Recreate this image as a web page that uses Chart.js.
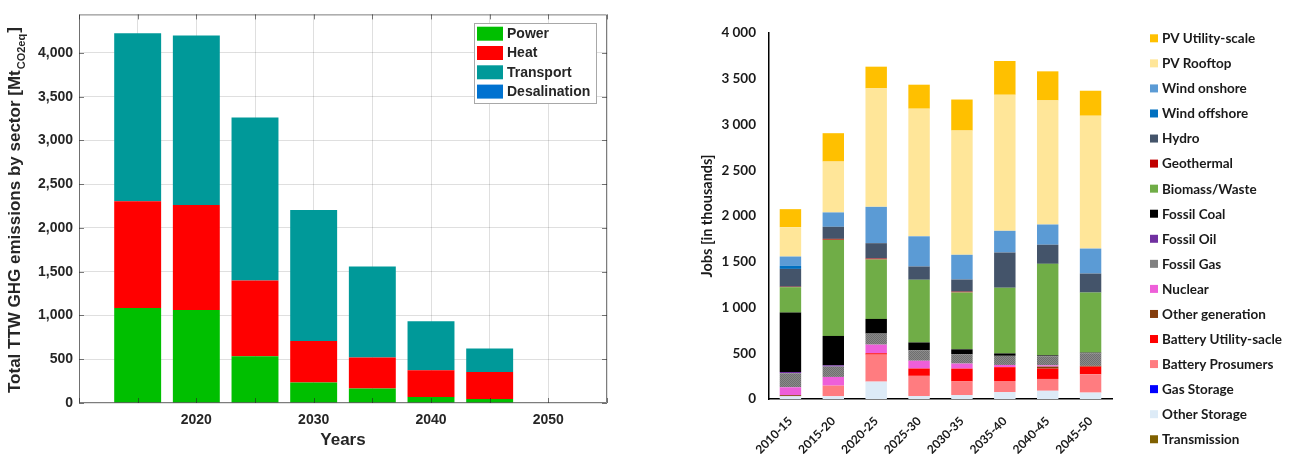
<!DOCTYPE html>
<html>
<head>
<meta charset="utf-8">
<script src="https://cdn.jsdelivr.net/npm/chart.js@4"></script>
<style>
  html, body { margin: 0; padding: 0; background: #fff; }
  #wrap { position: relative; width: 1298px; height: 454px; overflow: hidden; }
  canvas { position: absolute; top: 0; }
  #emis { left: 0; }
  #jobs { left: 640px; }
</style>
</head>
<body>
<div id="wrap">
  <canvas id="emis" width="640" height="454"></canvas>
  <canvas id="jobs" width="658" height="454"></canvas>
</div>
<script>
// ---------- Tank-to-wheel GHG emissions by sector (Mt CO2eq) ----------
const emisYears = [2015, 2020, 2025, 2030, 2035, 2040, 2045];
const emisPower = [1085, 1063, 535, 234, 166, 68, 45];
const emisHeat = [1220, 1199, 864, 475, 354, 305, 309];
const emisTransport = [1920, 1938, 1862, 1496, 1041, 562, 268];
const emisDesalination = [0, 0, 0, 0, 0, 0, 0];
const emisSectors = ['Power', 'Heat', 'Transport', 'Desalination'];
const emisXLabels = [2020, 2030, 2040, 2050];
const emisYTicks = [0, 500, 1000, 1500, 2000, 2500, 3000, 3500, 4000];

// ---------- Jobs by technology (thousands) ----------
const periods = ['2010-15', '2015-20', '2020-25', '2025-30', '2030-35', '2035-40', '2040-45', '2045-50'];
const transmission     = [0, 0, 0, 0, 0, 0, 0, 0];
const otherStorage     = [30, 30, 190, 33, 44, 75, 90, 70];
const gasStorage       = [0, 0, 0, 0, 0, 0, 0, 0];
const batteryProsumers = [0, 116, 295, 220, 148, 122, 129, 200];
const batteryUtility   = [0, 0, 15, 80, 140, 151, 113, 84];
const otherGeneration  = [12, 0, 0, 0, 0, 0, 22, 8];
const nuclear          = [86, 95, 94, 85, 55, 24, 14, 0];
const fossilGas        = [153, 113, 121, 115, 103, 100, 99, 138];
const fossilOil        = [14, 14, 0, 0, 0, 0, 0, 0];
const fossilCoal       = [649, 321, 160, 85, 53, 26, 10, 7];
const biomassWaste     = [278, 1051, 650, 685, 622, 718, 1000, 656];
const geothermal       = [5, 10, 10, 0, 8, 0, 0, 0];
const hydro            = [195, 132, 168, 145, 133, 385, 209, 208];
const windOffshore     = [33, 0, 0, 0, 0, 0, 0, 0];
const windOnshore      = [102, 157, 397, 330, 270, 237, 221, 273];
const pvRooftop        = [321, 556, 1295, 1395, 1358, 1487, 1356, 1452];
const pvUtility        = [197, 310, 237, 262, 339, 369, 318, 273];

// ===================== left panel =====================
const fontL = '"Liberation Sans", Arial, Helvetica, sans-serif';
const inkL = '#262626';
const emisColors = ['#00bf00', '#ff0000', '#009999', '#0072d0'];
const emisValues = [emisPower, emisHeat, emisTransport, emisDesalination];

// MATLAB-style box with inward tick marks
const emisFrame = {
  id: 'emisFrame',
  afterDraw(chart) {
    const { ctx, chartArea: a, scales } = chart;
    ctx.save();
    ctx.strokeStyle = 'rgba(38,38,38,0.6)';
    ctx.lineWidth = 1;
    ctx.beginPath();
    ctx.rect(a.left + 0.5, a.top + 0.5, a.right - a.left - 1, a.bottom - a.top - 1);
    const tl = 5;
    scales.x.ticks.forEach(t => {
      const px = Math.round(scales.x.getPixelForValue(t.value)) + 0.5;
      ctx.moveTo(px, a.top); ctx.lineTo(px, a.top + tl);
      ctx.moveTo(px, a.bottom); ctx.lineTo(px, a.bottom - tl);
    });
    scales.y.ticks.forEach(t => {
      const py = Math.round(scales.y.getPixelForValue(t.value)) + 0.5;
      ctx.moveTo(a.left, py); ctx.lineTo(a.left + tl, py);
      ctx.moveTo(a.right, py); ctx.lineTo(a.right - tl, py);
    });
    ctx.stroke();
    ctx.restore();
  }
};

// Boxed legend in the upper right of the plot
const emisLegend = {
  id: 'emisLegend',
  afterDraw(chart) {
    const ctx = chart.ctx;
    const x0 = 474, y0 = 23, w = 122, h = 80, pitch = 19.3;
    ctx.save();
    ctx.fillStyle = '#fff';
    ctx.fillRect(x0, y0, w, h);
    ctx.strokeStyle = '#a8a8a8';
    ctx.lineWidth = 1;
    ctx.strokeRect(x0 + 0.5, y0 + 0.5, w, h);
    ctx.font = 'bold 14px ' + fontL;
    ctx.textBaseline = 'middle';
    ctx.textAlign = 'left';
    chart.data.datasets.forEach((ds, i) => {
      const cy = y0 + 10.7 + i * pitch;
      ctx.fillStyle = ds.backgroundColor;
      ctx.fillRect(x0 + 3, cy - 7, 26, 14);
      ctx.fillStyle = inkL;
      ctx.fillText(ds.label, x0 + 33, cy + 0.5);
    });
    ctx.restore();
  }
};

// Rotated y title with a subscript unit
const emisYTitle = {
  id: 'emisYTitle',
  afterDraw(chart) {
    const ctx = chart.ctx;
    ctx.save();
    ctx.translate(20, 393);
    ctx.rotate(-Math.PI / 2);
    ctx.fillStyle = inkL;
    ctx.textAlign = 'left';
    ctx.textBaseline = 'alphabetic';
    const main = 'Total TTW GHG emissions by sector [Mt';
    ctx.font = 'bold 17px ' + fontL;
    ctx.fillText(main, 0, 0);
    let w = ctx.measureText(main).width;
    ctx.font = 'bold 11px ' + fontL;
    ctx.fillText('CO2eq', w + 1, 5);
    w += 1 + ctx.measureText('CO2eq').width;
    ctx.font = 'bold 17px ' + fontL;
    ctx.fillText(']', w + 1, -1);
    ctx.restore();
  }
};

new Chart(document.getElementById('emis'), {
  type: 'bar',
  data: {
    datasets: emisValues.map((vals, k) => ({
      label: emisSectors[k],
      data: emisYears.map((x, i) => ({ x: x, y: vals[i] })),
      backgroundColor: emisColors[k],
      borderWidth: 0,
      categoryPercentage: 0.8,
      barPercentage: 1
    }))
  },
  options: {
    responsive: false,
    animation: false,
    devicePixelRatio: 1,
    layout: { padding: { left: 0, top: 11, right: 33, bottom: 0 } },
    plugins: { legend: { display: false }, tooltip: { enabled: false } },
    scales: {
      x: {
        type: 'linear', stacked: true, min: 2010, max: 2055, offset: false, z: 1,
        grid: { color: 'rgba(38,38,38,0.15)', lineWidth: 1, drawTicks: false, offset: false },
        border: { display: false },
        ticks: {
          stepSize: 5, padding: 9, autoSkip: false, maxRotation: 0, color: inkL,
          font: { family: fontL, size: 14, weight: 'bold' },
          callback: v => (emisXLabels.includes(v) ? String(v) : '')
        },
        title: {
          display: true, text: 'Years', color: inkL, padding: { top: 0, bottom: 3 },
          font: { family: fontL, size: 17, weight: 'bold' }
        },
        afterFit: s => { s.height = 51; }
      },
      y: {
        type: 'linear', stacked: true, min: 0, max: 4440, z: 1,
        grid: { color: 'rgba(38,38,38,0.15)', lineWidth: 1, drawTicks: false },
        border: { display: false },
        ticks: {
          padding: 6, autoSkip: false, color: inkL,
          font: { family: fontL, size: 14, weight: 'bold' },
          callback: v => Number(v).toLocaleString('en-US')
        },
        afterBuildTicks: s => { s.ticks = emisYTicks.map(v => ({ value: v })); },
        afterFit: s => { s.width = 79; }
      }
    }
  },
  plugins: [emisFrame, emisLegend, emisYTitle]
});

// ===================== right panel =====================
const fontR = 'Lato, "Open Sans", sans-serif';
const inkR = '#1a1a1a';

// grainy grey fill for fossil gas
function grainFill() {
  const c = document.createElement('canvas');
  c.width = 2; c.height = 2;
  const g = c.getContext('2d');
  g.fillStyle = '#8a8a8a'; g.fillRect(0, 0, 2, 2);
  g.fillStyle = '#6f6f6f'; g.fillRect(0, 0, 1, 1); g.fillRect(1, 1, 1, 1);
  return g.createPattern(c, 'repeat');
}

// stacked bottom to top
const jobsSeries = [
  { name: 'Transmission',          values: transmission,     color: '#7f6000' },
  { name: 'Other Storage',         values: otherStorage,     color: '#ddebf7' },
  { name: 'Gas Storage',           values: gasStorage,       color: '#0000ff' },
  { name: 'Battery Prosumers',     values: batteryProsumers, color: '#ff7c80' },
  { name: 'Battery Utility-sacle', values: batteryUtility,   color: '#ff0000' },
  { name: 'Other generation',      values: otherGeneration,  color: '#843c0c' },
  { name: 'Nuclear',               values: nuclear,          color: '#ee5fd9' },
  { name: 'Fossil Gas',            values: fossilGas,        color: '#808080', fill: grainFill() },
  { name: 'Fossil Oil',            values: fossilOil,        color: '#7030a0' },
  { name: 'Fossil Coal',           values: fossilCoal,       color: '#000000' },
  { name: 'Biomass/Waste',         values: biomassWaste,     color: '#70ad47' },
  { name: 'Geothermal',            values: geothermal,       color: '#c00000' },
  { name: 'Hydro',                 values: hydro,            color: '#44546a' },
  { name: 'Wind offshore',         values: windOffshore,     color: '#0070c0' },
  { name: 'Wind onshore',          values: windOnshore,      color: '#5b9bd5' },
  { name: 'PV Rooftop',            values: pvRooftop,        color: '#ffe699' },
  { name: 'PV Utility-scale',      values: pvUtility,        color: '#ffc000' }
];

const spaced = v => String(v).replace(/\B(?=(\d{3})+(?!\d))/g, ' ');

// Legend column on the right, top entry = top of the stack
const jobsLegend = {
  id: 'jobsLegend',
  afterDraw(chart) {
    const ctx = chart.ctx;
    const x0 = 510, y0 = 38.3, pitch = 25.06;
    ctx.save();
    ctx.font = 'bold 13.5px ' + fontR;
    ctx.textBaseline = 'middle';
    ctx.textAlign = 'left';
    const items = chart.data.datasets.slice().reverse();
    items.forEach((ds, i) => {
      const cy = y0 + i * pitch;
      ctx.fillStyle = ds.swatch;
      ctx.fillRect(x0, cy - 4, 8, 8);
      ctx.fillStyle = inkR;
      ctx.fillText(ds.label, x0 + 12, cy + 0.5);
    });
    ctx.restore();
  }
};

new Chart(document.getElementById('jobs'), {
  type: 'bar',
  data: {
    labels: periods,
    datasets: jobsSeries.map(s => ({
      label: s.name,
      data: s.values,
      backgroundColor: s.fill || s.color,
      swatch: s.color,
      borderWidth: 0,
      categoryPercentage: 0.5,
      barPercentage: 1
    }))
  },
  options: {
    responsive: false,
    animation: false,
    devicePixelRatio: 1,
    layout: { padding: { left: 0, top: 33, right: 186, bottom: 0 } },
    plugins: { legend: { display: false }, tooltip: { enabled: false } },
    scales: {
      x: {
        stacked: true,
        grid: { display: false, drawTicks: false },
        border: { display: true, color: '#000', width: 1.5 },
        ticks: {
          minRotation: 45, maxRotation: 45, autoSkip: false, padding: 15, color: inkR,
          font: { family: fontR, size: 12, weight: 'bold' }
        },
        afterFit: s => { s.height = 55; }
      },
      y: {
        stacked: true, min: 0, max: 4000,
        grid: { display: false, drawTicks: false },
        border: { display: true, color: '#000', width: 1.5 },
        ticks: {
          stepSize: 500, padding: 13, color: inkR,
          font: { family: fontR, size: 13.5, weight: 'bold' },
          callback: v => spaced(v)
        },
        title: {
          display: true, text: 'Jobs [in thousands]', color: inkR, padding: { top: 59, bottom: 0 },
          font: { family: fontR, size: 14.5, weight: 'bold' }
        },
        afterFit: s => { s.width = 129; }
      }
    }
  },
  plugins: [jobsLegend]
});
</script>
</body>
</html>
